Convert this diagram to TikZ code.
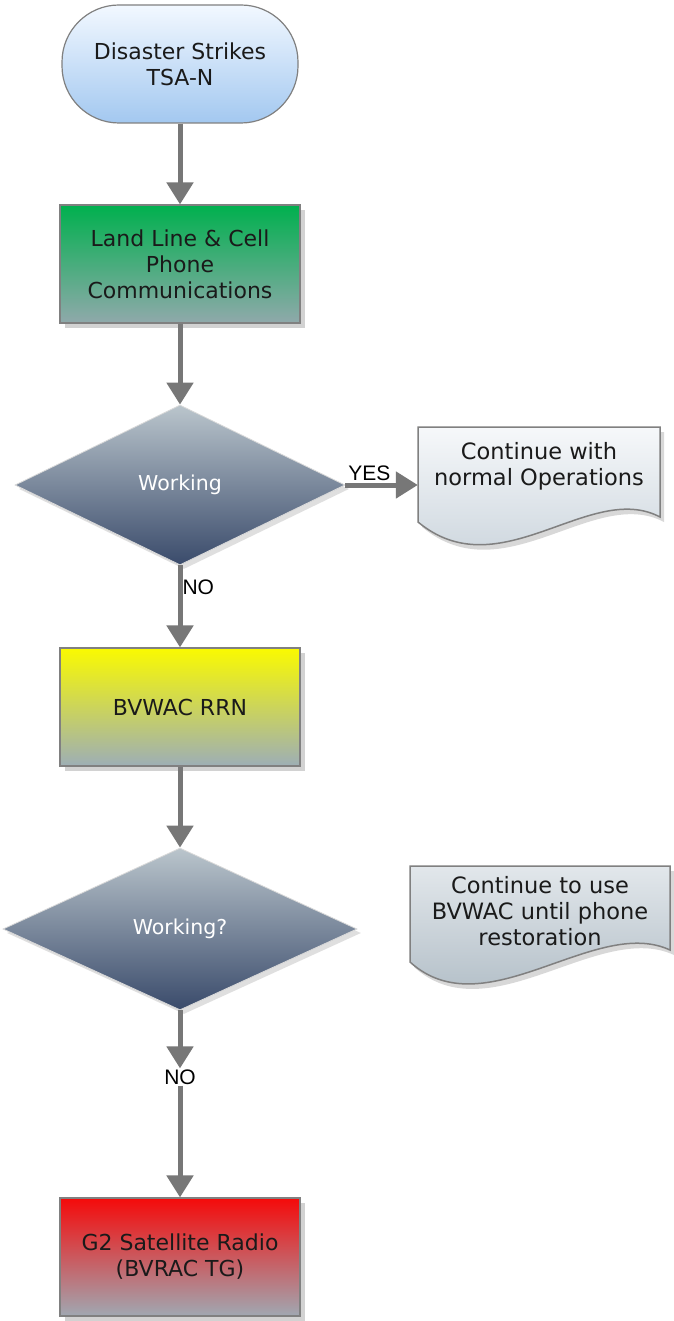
\documentclass[tikz,border=0pt]{standalone}
\usepackage{fontspec}
\setmainfont{DejaVu Sans}
\newfontfamily\labelfont{Liberation Sans}
\usetikzlibrary{shapes.geometric,arrows.meta,shadows}
\definecolor{arrowgray}{HTML}{777777}
\definecolor{edgegray}{HTML}{808080}
\definecolor{txtdark}{HTML}{1A1A1A}
\definecolor{termtop}{HTML}{F2F8FF}
\definecolor{termbot}{HTML}{A3C8F0}
\definecolor{greentop}{HTML}{00B04E}
\definecolor{greenbot}{HTML}{90A9AB}
\definecolor{yeltop}{HTML}{FAFA00}
\definecolor{yelbot}{HTML}{9DAEB6}
\definecolor{redtop}{HTML}{F50A0A}
\definecolor{redbot}{HTML}{A0A8B2}
\definecolor{diatop}{HTML}{BAC5CC}
\definecolor{diabot}{HTML}{3A4B6B}
\definecolor{docatop}{HTML}{F6F8FA}
\definecolor{docabot}{HTML}{C3CED7}
\definecolor{docbtop}{HTML}{E2E7EB}
\definecolor{docbbot}{HTML}{A6B4BE}
\tikzset{
  boxtext/.style={font=\fontsize{22}{26}\selectfont, text=txtdark, align=center},
  term/.style={boxtext, draw=edgegray, line width=1.2pt, rounded corners=57pt,
     minimum width=236pt, minimum height=118pt, top color=termtop, bottom color=termbot},
  procbox/.style={boxtext, draw=edgegray, line width=1.2pt, minimum width=240pt, minimum height=118pt,
     drop shadow={shadow xshift=5pt, shadow yshift=-5pt, opacity=0.35}},
  decision/.style={diamond, draw=white!70!gray, line width=0.8pt, inner sep=0pt,
     top color=diatop, bottom color=diabot, text=white, font=\fontsize{20.5}{24}\selectfont,
     drop shadow={shadow xshift=4pt, shadow yshift=-4pt, opacity=0.25}},
  docshape/.style={draw=edgegray, line width=1.5pt,
     drop shadow={shadow xshift=4pt, shadow yshift=-5pt, opacity=0.3}},
  doctext/.style={font=\fontsize{22.5}{26}\selectfont, text=txtdark, align=center},
  conn/.style={draw=arrowgray, line width=5pt, -{Triangle[width=26pt,length=22pt]}},
  lbl/.style={font=\labelfont\fontsize{21}{23}\selectfont, text=black, inner sep=1pt}
}
\begin{document}
\begin{tikzpicture}[x=1pt,y=-1pt]
\useasboundingbox[fill=white] (0,0) rectangle (673,1321);

% document shapes
\path[docshape, top color=docatop, bottom color=docabot]
  (418,427) -- (660,427) -- (660,517)
  .. controls (590,480) and (500,590) .. (418,522) -- cycle;
\path[docshape, top color=docbtop, bottom color=docbbot]
  (410,866) -- (670,866) -- (670,950)
  .. controls (595,915) and (485,1030) .. (410,962) -- cycle;

\node[term] (start) at (180,64) {Disaster Strikes\\TSA-N};
\node[procbox, top color=greentop, bottom color=greenbot] (land) at (180,264)
  {Land Line \& Cell\\Phone\\Communications};
\node[decision, minimum width=330pt, minimum height=160pt] (d1) at (180,485) {Working};
\node[doctext, minimum width=242pt, minimum height=95pt] (doc1) at (539,466)
  {Continue with\\normal Operations};
\node[procbox, top color=yeltop, bottom color=yelbot] (bvwac) at (180,707) {BVWAC RRN};
\node[decision, minimum width=354pt, minimum height=162pt] (d2) at (180,929) {Working?};
\node[doctext, minimum width=260pt, minimum height=96pt] (doc2) at (540,911)
  {Continue to use\\BVWAC until phone\\restoration};
\node[lbl] (no2) at (180,1077) {NO};
\node[procbox, top color=redtop, bottom color=redbot] (g2) at (180,1257)
  {G2 Satellite Radio\\(BVRAC TG)};

\draw[conn] (start) -- (land);
\draw[conn] (land) -- (d1);
\draw[conn] (d1.east) -- (d1.east -| doc1.west)
  node[lbl, pos=0.33, above, yshift=1pt] {YES};
\draw[conn] (d1) -- (bvwac)
  node[lbl, pos=0.27, anchor=west, xshift=-1pt] {NO};
\draw[conn] (bvwac) -- (d2);
\draw[conn] (d2) -- (no2);
\draw[conn] (no2) -- (g2);
\end{tikzpicture}
\end{document}
